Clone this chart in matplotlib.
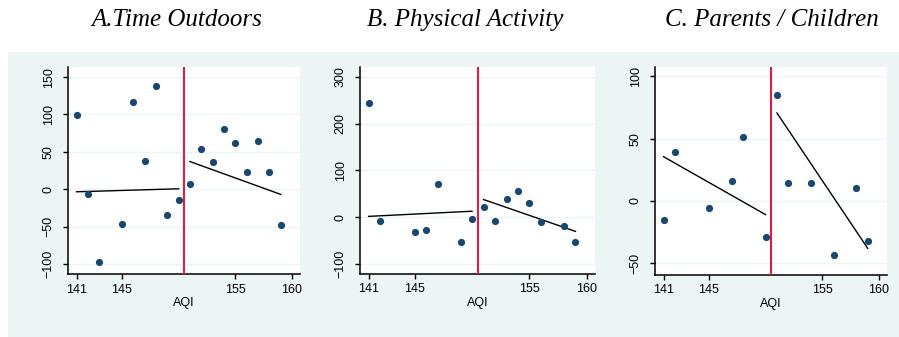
import matplotlib
matplotlib.use("Agg")
import matplotlib.pyplot as plt
from matplotlib.patches import Rectangle

# ---------------- data ----------------
titles = ["A.Time Outdoors", "B. Physical Activity", "C. Parents / Children"]
cutoff = 150.5

a_x = [141, 142, 143, 145, 146, 147, 148, 149, 150, 151, 152, 153, 154, 155, 156, 157, 158, 159]
a_y = [99, -6, -98, -46, 117, 38, 138, -35, -14, 7, 54, 36, 80, 62, 23, 64, 23, -48]
a_fit_left_x = [141, 150]
a_fit_left_y = [-3.5, 0.5]
a_fit_right_x = [151, 159]
a_fit_right_y = [37, -7]
a_yticks = [-100, -50, 0, 50, 100, 150]
a_ylim = (-113.6, 163.6)

b_x = [141, 142, 145, 146, 147, 149, 150, 151, 152, 153, 154, 155, 156, 158, 159]
b_y = [244, -7, -32, -28, 72, -52, -3, 22, -7, 39, 56, 31, -11, -19, -52]
b_fit_left_x = [141, 150]
b_fit_left_y = [2, 13]
b_fit_right_x = [151, 159]
b_fit_right_y = [38, -30]
b_yticks = [-100, 0, 100, 200, 300]
b_ylim = (-120, 321)

c_x = [141, 142, 145, 147, 148, 150, 151, 152, 154, 156, 158, 159]
c_y = [-15, 39.5, -6, 16, 51.5, -29, 85, 14, 14, -43, 10, -32]
c_fit_left_x = [141, 150]
c_fit_left_y = [35.5, -11]
c_fit_right_x = [151, 159]
c_fit_right_y = [70.5, -38]
c_yticks = [-50, 0, 50, 100]
c_ylim = (-59, 107.4)

xticks = [141, 145, 155, 160]
xlim = (140.25, 160.7)
xlabel = "AQI"

# ---------------- style ----------------
W, H = 899, 337
BG = "#EDF4F4"
NAVY = "#1A476F"
RED = "#D61F45"

fig = plt.figure(figsize=(W / 100, H / 100), dpi=100)
fig.patch.set_facecolor("white")
fig.patches.append(Rectangle((8 / W, 0), 1, (H - 52) / H, transform=fig.transFigure,
                             facecolor=BG, edgecolor="none", zorder=0))

panels = [
    (a_x, a_y, a_fit_left_x, a_fit_left_y, a_fit_right_x, a_fit_right_y, a_yticks, a_ylim,
     (68, 300, 67, 274)),
    (b_x, b_y, b_fit_left_x, b_fit_left_y, b_fit_right_x, b_fit_right_y, b_yticks, b_ylim,
     (360, 595, 67, 273.5)),
    (c_x, c_y, c_fit_left_x, c_fit_left_y, c_fit_right_x, c_fit_right_y, c_yticks, c_ylim,
     (655, 887, 67, 274.5)),
]
title_x = [177, 465, 772]

for i, (xs, ys, flx, fly, frx, fry, yt, yl, box) in enumerate(panels):
    x0, x1, ytop, ybot = box
    ax = fig.add_axes([x0 / W, (H - ybot) / H, (x1 - x0) / W, (ybot - ytop) / H])
    ax.set_facecolor("white")
    ax.set_zorder(2)
    for s in ["top", "right"]:
        ax.spines[s].set_visible(False)
    for s in ["left", "bottom"]:
        ax.spines[s].set_linewidth(1.1)
        ax.spines[s].set_color("black")
    ax.set_xlim(*xlim)
    ax.set_ylim(*yl)
    ax.set_xticks(xticks)
    ax.set_yticks(yt)
    ax.yaxis.grid(True, color=BG, linewidth=1.0)
    ax.set_axisbelow(True)
    ax.tick_params(axis="both", direction="out", length=3.6, width=1.0,
                   labelsize=9, colors="black")
    ax.tick_params(axis="x", pad=3.5)
    ax.tick_params(axis="y", pad=6, labelrotation=90)
    for lab in ax.get_yticklabels():
        lab.set_va("center")
        lab.set_family("Liberation Sans")
    for lab in ax.get_xticklabels():
        lab.set_family("Liberation Sans")
    ax.set_xlabel(xlabel, fontsize=9, family="Liberation Sans", labelpad=1)
    ax.axvline(cutoff, color=RED, linewidth=1.5, zorder=3)
    ax.plot(flx, fly, color="black", linewidth=1.0, zorder=3)
    ax.plot(frx, fry, color="black", linewidth=1.0, zorder=3)
    ax.scatter(xs, ys, s=27, color=NAVY, zorder=4, linewidths=0)
    fig.text(title_x[i] / W, (H - 20) / H, titles[i], ha="center", va="center",
             family="Liberation Serif", style="italic", fontsize=18)

fig.savefig("out.png", dpi=100, facecolor=fig.get_facecolor())
